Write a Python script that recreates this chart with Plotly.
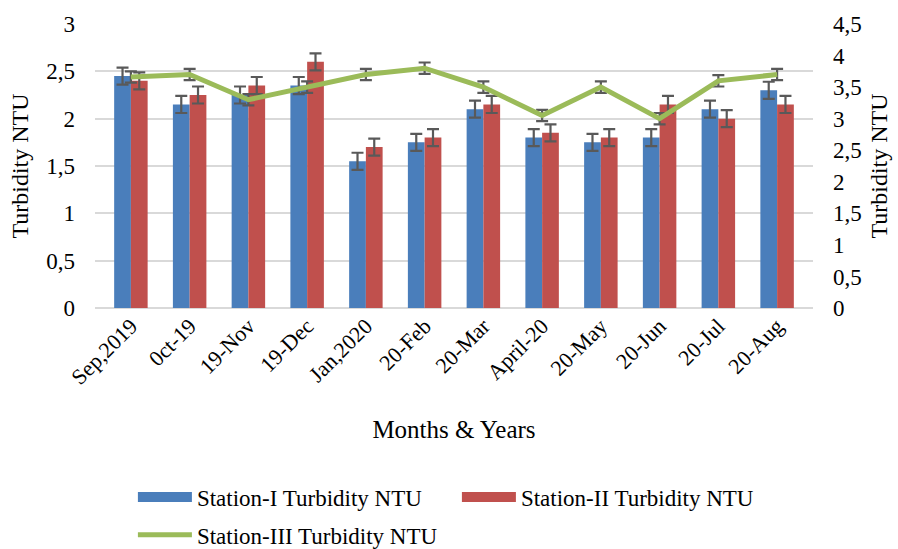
import plotly.graph_objects as go

months = ["Sep,2019", "0ct-19", "19-Nov", "19-Dec", "Jan,2020", "20-Feb",
          "20-Mar", "April-20", "20-May", "20-Jun", "20-Jul", "20-Aug"]
station1 = [2.45, 2.15, 2.25, 2.35, 1.55, 1.75, 2.10, 1.80, 1.75, 1.80, 2.10, 2.30]
station2 = [2.40, 2.25, 2.35, 2.60, 1.70, 1.80, 2.15, 1.85, 1.80, 2.15, 2.00, 2.15]
station3 = [3.66, 3.70, 3.30, 3.50, 3.70, 3.80, 3.50, 3.05, 3.50, 3.00, 3.60, 3.70]
err1 = [0.09] * 12
err2 = [0.09] * 12
err3 = [0.09] * 12

names = ["Station-I Turbidity NTU", "Station-II Turbidity NTU", "Station-III Turbidity NTU"]
colors = ["#4A7EBB", "#C0504D", "#9BBB59"]

FF = "Liberation Serif"
err_color = "#595959"

fig = go.Figure()
fig.add_trace(go.Bar(
    x=months, y=station1, name=names[0], showlegend=False,
    marker=dict(color=colors[0], line=dict(width=0)),
    error_y=dict(type="data", array=err1, color=err_color, thickness=2.2, width=6),
))
fig.add_trace(go.Bar(
    x=months, y=station2, name=names[1], showlegend=False,
    marker=dict(color=colors[1], line=dict(width=0)),
    error_y=dict(type="data", array=err2, color=err_color, thickness=2.2, width=6),
))
fig.add_trace(go.Scatter(
    x=months, y=station3, name=names[2], yaxis="y2", legend="legend2",
    mode="lines", line=dict(color=colors[2], width=5),
    error_y=dict(type="data", array=err3, color=err_color, thickness=2.2, width=6),
))
# legend-only keys for the bar series (wide rectangles like the original)
for nm, col in zip(names[:2], colors[:2]):
    fig.add_trace(go.Scatter(
        x=[None], y=[None], name=nm, mode="lines", legend="legend",
        line=dict(color=col, width=13), hoverinfo="skip",
    ))

legend_common = dict(
    orientation="h", xanchor="left", yanchor="middle",
    xref="container", yref="container",
    font=dict(family=FF, size=23, color="#000000"), itemwidth=54,
    bgcolor="rgba(0,0,0,0)",
)

fig.update_layout(
    width=898, height=549,
    paper_bgcolor="white", plot_bgcolor="white",
    separators=", ",
    barmode="group", bargap=0.43, bargroupgap=0,
    margin=dict(l=95, r=85, t=24, b=241),
    font=dict(family=FF, size=22, color="#000000"),
    xaxis=dict(
        tickangle=-45, showgrid=False, showline=False, zeroline=False,
        ticks="", tickfont=dict(family=FF, size=22), automargin=False,
        title=dict(text="Months & Years", font=dict(family=FF, size=25), standoff=31),
    ),
    yaxis=dict(
        range=[0, 3], dtick=0.5, tickformat=".1~f",
        showgrid=True, gridcolor="#D9D9D9", gridwidth=1.5,
        zeroline=True, zerolinecolor="#D9D9D9", zerolinewidth=1.5,
        showline=False, ticks="", tickfont=dict(family=FF, size=23), automargin=False,
        ticklabelstandoff=19,
        title=dict(text="Turbidity NTU", font=dict(family=FF, size=24), standoff=10),
    ),
    yaxis2=dict(
        range=[0, 4.5], dtick=0.5, tickformat=".1~f",
        overlaying="y", side="right", showgrid=False, zeroline=False,
        showline=False, ticks="", tickfont=dict(family=FF, size=23), automargin=False,
        ticklabelstandoff=19,
        title=dict(text="Turbidity NTU", font=dict(family=FF, size=24), standoff=9),
    ),
    legend=dict(x=0.148, y=0.0947, entrywidth=255, entrywidthmode="pixels",
                traceorder="normal", **legend_common),
    legend2=dict(x=0.148, y=0.026, **legend_common),
    showlegend=True,
)

fig.write_html("out.html", config={"displayModeBar": False},
               post_script="document.body.style.margin='0';")
